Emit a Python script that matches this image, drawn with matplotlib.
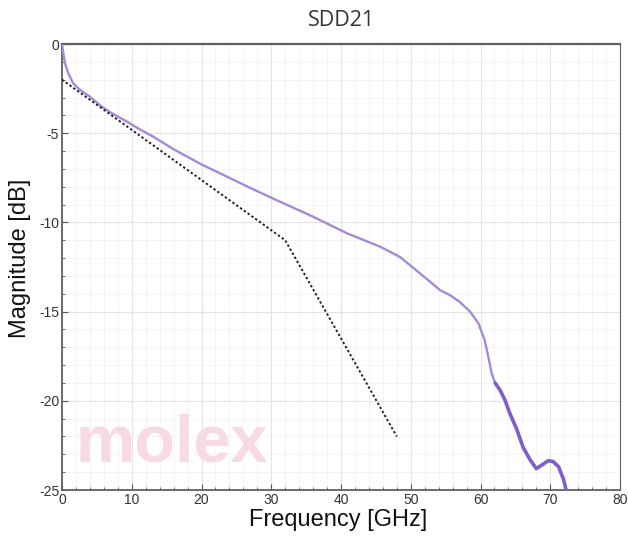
import matplotlib
matplotlib.use("Agg")
import matplotlib.pyplot as plt
from matplotlib.ticker import MultipleLocator
import numpy as np

plt.rcParams["axes.unicode_minus"] = False

# Data
freq_ghz = [0, 0.19, 0.43, 0.9, 1.6, 2.6, 4.0, 5.5, 7.0, 9.3, 11, 13.1, 16,
            20, 24, 27, 31.25, 36, 40.8, 45.6, 47.0, 48.5, 49.9, 51.3, 53,
            54.2, 55.6, 57, 58.5, 59.7, 60.6, 61.1, 61.6, 62.1, 62.8, 63.5,
            64.2, 65.2, 66.1, 67.1, 68.0, 68.8, 69.7, 70.4, 71.2, 71.9, 72.4]
sdd21_db = [0, -0.52, -1.08, -1.64, -2.2, -2.58, -2.95, -3.45, -3.85, -4.35,
            -4.75, -5.2, -5.9, -6.75, -7.5, -8.07, -8.84, -9.68, -10.6,
            -11.36, -11.64, -11.95, -12.4, -12.85, -13.4, -13.8, -14.07,
            -14.45, -15.0, -15.66, -16.6, -17.5, -18.46, -19.0, -19.4,
            -19.95, -20.7, -21.6, -22.6, -23.3, -23.8, -23.6, -23.36, -23.4,
            -23.7, -24.4, -25.2]
limit_freq = [0, 32, 48]
limit_db = [-2, -11, -22]

title = "SDD21"
xlabel = "Frequency [GHz]"
ylabel = "Magnitude [dB]"

fig = plt.figure(figsize=(6.28, 5.37), dpi=100)
ax = fig.add_axes([62/628, 1-490/537, (620-62)/628, (490-44)/537])

ax.set_xlim(0, 80)
ax.set_ylim(-25, 0)

ax.xaxis.set_major_locator(MultipleLocator(10))
ax.xaxis.set_minor_locator(MultipleLocator(2))
ax.yaxis.set_major_locator(MultipleLocator(5))
ax.yaxis.set_minor_locator(MultipleLocator(1))

ax.grid(which="major", color="#e4e4e4", linewidth=0.8)
ax.grid(which="minor", color="#f3f3f3", linewidth=0.6)
ax.set_axisbelow(True)

for side, sp in ax.spines.items():
    sp.set_color("#606060")
ax.spines["top"].set_linewidth(1.6)
ax.spines["left"].set_linewidth(1.3)
ax.spines["bottom"].set_linewidth(1.3)
ax.spines["right"].set_linewidth(0.8)

ax.tick_params(which="both", direction="in", colors="#555555",
               labelcolor="#333333", labelsize=10, pad=2)
ax.tick_params(which="major", length=4)
ax.tick_params(which="minor", length=2)
for lab in ax.get_xticklabels() + ax.get_yticklabels():
    lab.set_fontfamily("Liberation Sans")

# watermark
ax.text(1.9, -23.4, "molex", fontsize=48, fontweight="bold",
        family="Liberation Sans", color="#f8dae3", zorder=1)

f = np.array(freq_ghz)
m = np.array(sdd21_db)
ax.plot(f, m, color="#a58ad6", linewidth=1.7, zorder=3,
        solid_joinstyle="round", solid_capstyle="round")
sel = f >= 62.1
ax.plot(f[sel], m[sel], color="#7f5fc8", linewidth=2.6, zorder=4,
        solid_joinstyle="round", solid_capstyle="round")

ax.plot(limit_freq, limit_db, color="#222222", linestyle=(0, (1.2, 1.2)),
        linewidth=1.4, zorder=5)

fig.text(341/628, 1-21/537, title, ha="center", va="center",
         fontsize=15.5, family="Open Sans", color="#333333")
ax.set_xlabel(xlabel, fontsize=17, family="Liberation Sans", color="#111111")
ax.set_ylabel(ylabel, fontsize=17, family="Liberation Sans", color="#111111")
ax.xaxis.set_label_coords(0.495, -0.043)
ax.yaxis.set_label_coords(-0.055, 0.52)

fig.savefig("out.png", dpi=100, facecolor="white")
